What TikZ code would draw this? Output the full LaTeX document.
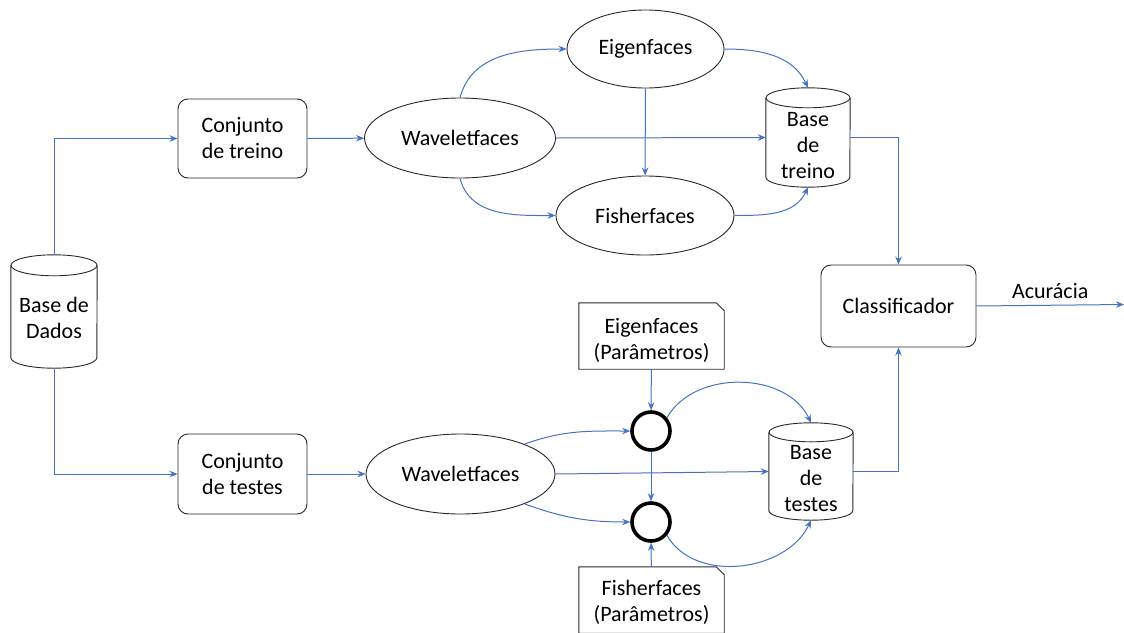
\documentclass[tikz,border=0pt]{standalone}
\usepackage{fontspec}
\setmainfont{Carlito}
\usetikzlibrary{arrows.meta,shapes.geometric}
\definecolor{linkblue}{RGB}{68,114,196}
\definecolor{edgegray}{RGB}{40,40,40}
% cylinder outline around a named rectangular node: #1 name, #2 half width, #3 cap radius
\newcommand\dbcylinder[3]{%
  \draw[shapeline] ([yshift=-#3pt]#1.north) ellipse[x radius=#2pt,y radius=#3pt];
  \draw[shapeline] ([yshift=-#3pt]#1.north west) -- ([yshift=#3pt]#1.south west)
    arc[start angle=180,end angle=360,x radius=#2pt,y radius=#3pt]
    -- ([yshift=-#3pt]#1.north east);}
% note with the top right corner cut off
\newcommand\snipnote[1]{%
  \draw[shapeline] (#1.south west) -- (#1.north west) -- ([xshift=-8pt]#1.north east)
    -- ([yshift=-8pt]#1.north east) -- (#1.south east) -- cycle;}
\begin{document}
\begin{tikzpicture}[x=1pt,y=1pt,
  font=\fontsize{22}{26}\selectfont,
  shapeline/.style={draw=edgegray,line width=0.9pt},
  conn/.style={draw=linkblue,line width=1pt,-{Stealth[length=8pt,width=6.5pt]}},
  rbox/.style={shapeline,rounded corners=10pt,align=center,inner sep=0pt},
  oval/.style={shapeline,ellipse,inner sep=0pt},
  cylbody/.style={inner sep=0pt},
  cyltext/.style={align=center,inner sep=0pt},
  notebox/.style={align=center,inner sep=0pt,minimum width=145pt,minimum height=66pt},
  notetext/.style={align=center,inner sep=0pt},
  junction/.style={circle,draw=black,line width=3.6pt,minimum size=38pt,inner sep=0pt}]
\useasboundingbox (0,0) rectangle (1124,-632);

% data stores
\node[cylbody,minimum width=86pt,minimum height=113pt] (db) at (54,-311.5) {};
\dbcylinder{db}{43}{10.5}
\node[cyltext] (dbt) at (54,-318) {Base de\\Dados};

\node[cylbody,minimum width=84pt,minimum height=99pt] (bt) at (808,-137.5) {};
\dbcylinder{bt}{42}{10}
\node[cyltext] (btt) at (808,-146) {Base\\de\\treino};

\node[cylbody,minimum width=84pt,minimum height=97pt] (bs) at (811,-471.5) {};
\dbcylinder{bs}{42}{9.5}
\node[cyltext] (bst) at (811,-479) {Base\\de\\testes};

% process boxes
\node[rbox,minimum width=129pt,minimum height=79pt] (ct) at (242.5,-138.5) {Conjunto\\de treino};
\node[rbox,minimum width=129pt,minimum height=80pt] (cs) at (242.5,-474) {Conjunto\\de testes};
\node[rbox,minimum width=155pt,minimum height=82pt] (cls) at (898.5,-306) {Classificador};

% feature extraction
\node[oval,minimum width=191pt,minimum height=80pt] (wt) at (460,-138) {Waveletfaces};
\node[oval,minimum width=157pt,minimum height=78pt] (eig) at (645.5,-49) {Eigenfaces};
\node[oval,minimum width=178pt,minimum height=79pt] (fis) at (645,-215.5) {Fisherfaces};
\node[oval,minimum width=189pt,minimum height=80pt] (wb) at (460.5,-474) {Waveletfaces};

% parameter notes and projection junctions
\node[notebox] (pe) at (651.5,-336) {};
\snipnote{pe}
\node[notetext] (pet) at (651.5,-340) {Eigenfaces\\(Parâmetros)};
\node[notebox] (pf) at (651.5,-600) {};
\snipnote{pf}
\node[notetext] (pft) at (651.5,-602) {Fisherfaces\\(Parâmetros)};
\node[junction] (j1) at (651,-431) {};
\node[junction] (j2) at (651,-522) {};

\coordinate (acc) at (1124,-304.5);

% training branch
\draw[conn] (db.north) |- (ct.west);
\draw[conn] (ct) -- (wt);
\draw[conn] (wt.north) to[out=75,in=180] (eig.west);
\draw[conn] (wt.south) to[out=-75,in=180] (fis.west);
\draw[conn] (eig) -- (fis);
\draw[conn] (wt.east) -- (bt.west);
\draw[conn] (eig.east) to[out=0,in=115] (bt.north);
\draw[conn] (fis.east) to[out=0,in=-115] (bt.south);
\draw[conn] (bt.east) -| (cls.north);

% test branch
\draw[conn] (db.south) |- (cs.west);
\draw[conn] (cs) -- (wb);
\draw[conn] (wb.25) to[out=20,in=180] (j1.west);
\draw[conn] (wb.-25) to[out=-20,in=180] (j2.west);
\draw[conn] (wb.east) -- (bs.west);
\draw[conn] (pe) -- (j1);
\draw[conn] (j1) -- (j2);
\draw[conn] (pf) -- (j2);
\draw[conn] (j1.40) to[out=60,in=115] (bs.north);
\draw[conn] (j2.-40) to[out=-60,in=-115] (bs.south);
\draw[conn] (bs.east) -| (cls.south);

% result
\draw[conn] (cls.east) -- node[above=6pt,inner sep=0pt] {Acurácia} (acc);
\end{tikzpicture}
\end{document}
